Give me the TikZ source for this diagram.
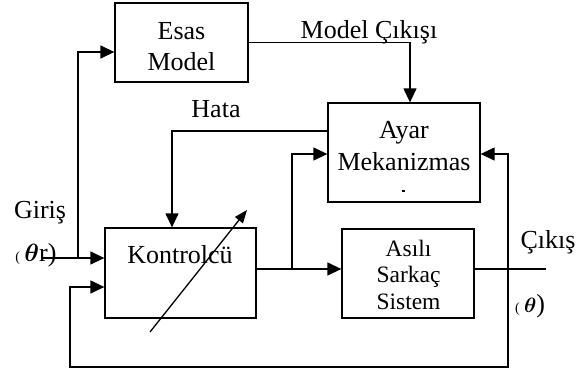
\documentclass[tikz,border=0pt]{standalone}
\usepackage{amsmath}
\usepackage{fontspec}
\setmainfont{Liberation Serif}
\usetikzlibrary{arrows.meta,calc}

\tikzset{
  blok/.style={draw, line width=1.3pt, inner sep=0pt},
  yazi/.style={font=\fontsize{26}{31}\selectfont, inner sep=0pt, align=center},
  ok/.style={line width=1.3pt, -{Triangle[length=14pt,width=13pt]}},
  hat/.style={line width=1.3pt}
}

\begin{document}
\begin{tikzpicture}[x=1pt,y=-1pt]
\useasboundingbox (0,0) rectangle (586,372);

\node[blok, minimum width=133pt, minimum height=79pt] (esas) at (181.5,42.5) {};
\node[yazi, anchor=base] (esasyazi) at (181.5,70) {Esas\\Model};
\node[blok, minimum width=152pt, minimum height=99pt] (ayar) at (404,152.5) {};
\node[yazi, font=\fontsize{26}{32}\selectfont, anchor=base] (ayaryazi) at (404,170) {Ayar\\Mekanizmas};
\draw[line width=1.4pt] (401.5,191) -- (404.5,191);
\node[blok, minimum width=151pt, minimum height=90pt] (kontrol) at (180.5,273) {};
\node[yazi, anchor=base] (kontrolyazi) at (180,263) {Kontrolcü};
\node[blok, minimum width=132pt, minimum height=89pt] (asili) at (408,273.5) {};
\node[yazi, font=\fontsize{23.5}{26.5}\selectfont, anchor=base] (asiliyazi) at (408.5,309) {Asılı\\Sarkaç\\Sistem};

\node[yazi, anchor=base] (modelcikis) at (369,38) {Model Çıkışı};
\node[yazi, anchor=base] (hata) at (216,117) {Hata};
\node[yazi, anchor=base] (giris) at (40,218) {Giriş};
\node[yazi, anchor=base] (teta) at (36,261) {{\fontsize{14}{14}\selectfont(}\,{\fontsize{28}{28}\selectfont$\boldsymbol{\theta}$}r)};
\node[yazi, anchor=base] (cikis) at (548,248) {Çıkış};
\node[yazi, anchor=base] (tetacikis) at (530,312) {{\fontsize{14}{14}\selectfont(}\,{\fontsize{20}{20}\selectfont$\boldsymbol{\theta}$})};

\coordinate (girisuc) at (42,258);
\coordinate (ayrim) at (78,258);
\coordinate (dugum) at (292,269);
\coordinate (geri) at (508,269);
\coordinate (cikisuc) at (546,269);
\coordinate (alt) at (70,367);

\draw[ok] (girisuc) -- ([yshift=15pt]kontrol.west);
\draw[ok] (ayrim) |- ([yshift=-9.5pt]esas.west);
\draw[ok] (esas.east) -| ([xshift=6pt]ayar.north);
\draw[ok] ([yshift=21.5pt]ayar.west) -| ([xshift=-8.5pt]kontrol.north);
\draw[hat] ([yshift=4pt]kontrol.east) -- (dugum);
\draw[ok] (dugum) -- ([yshift=4.5pt]asili.west);
\draw[ok] (dugum) |- ([yshift=-1.5pt]ayar.west);
\draw[hat] ([yshift=4.5pt]asili.east) -- (cikisuc);
\draw[ok] (geri) |- ([yshift=-1.5pt]ayar.east);
\draw[ok] (geri) |- (alt) |- ([yshift=-14pt]kontrol.west);

% ayarlanabilir kontrolcu oku
\draw[line width=1.3pt, -{Triangle[length=13pt,width=10pt]}] (150,332) -- (247,210);
\end{tikzpicture}
\end{document}
